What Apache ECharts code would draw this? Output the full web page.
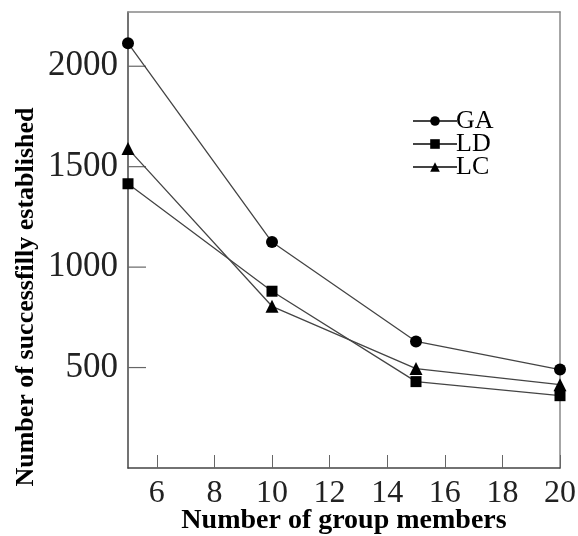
<!DOCTYPE html>
<html>
<head>
<meta charset="utf-8">
<script src="https://cdn.jsdelivr.net/npm/echarts@6/dist/echarts.min.js"></script>
<style>
  html, body { margin: 0; padding: 0; background: #fff; }
  #main { width: 578px; height: 536px; }
</style>
</head>
<body>
<div id="main"></div>
<script>
const members = [5, 10, 15, 20]
const gaValues = [2115, 1125, 630, 490]
const ldValues = [1415, 880, 430, 360]
const lcValues = [1590, 805, 495, 415]
const xTicks = [6, 8, 10, 12, 14, 16, 18, 20]
const yTicks = [500, 1000, 1500, 2000]
const xMin = 5
const xMax = 20
const yMax = 2270

const serif = '"Liberation Serif", "DejaVu Serif", serif'

const pairs = vals => members.map((m, i) => [m, vals[i]])

const makeSeries = (name, vals, symbol, size) => ({
    name,
    type: 'line',
    data: pairs(vals),
    symbol,
    symbolSize: size,
    lineStyle: { color: '#444', width: 1.3 },
    itemStyle: { color: '#000' },
})

// top / right frame lines
const frameAxis = {
    type: 'value',
    axisLine: { show: true, onZero: false, lineStyle: { color: '#888', width: 1.5 } },
    axisTick: { show: false },
    axisLabel: { show: false },
    splitLine: { show: false },
}

const chart = echarts.init(document.getElementById('main'))
chart.setOption({
    animation: false,
    grid: {
        left: 128,
        right: 18,
        top: 12,
        bottom: 68,
        outerBoundsMode: 'none',
        containLabel: false,
        show: false,
    },
    legend: {
        orient: 'vertical',
        left: 407,
        top: 103,
        itemWidth: 44,
        itemHeight: 12,
        itemGap: -3,
        textStyle: {
            fontFamily: serif,
            fontSize: 26,
            lineHeight: 21,
            color: '#000',
            padding: [0, 0, 0, -6],
        },
        data: ['GA', 'LD', 'LC'],
    },
    xAxis: [
        {
            type: 'value',
            min: xMin,
            max: xMax,
            name: 'Number of group members',
            nameLocation: 'middle',
            nameGap: 39,
            nameMoveOverlap: false,
            nameTextStyle: {
                fontFamily: serif,
                fontWeight: 'bold',
                fontSize: 28,
                color: '#000',
            },
            axisLine: { onZero: false, lineStyle: { color: '#444', width: 1.5 } },
            axisTick: {
                show: true,
                inside: true,
                length: 13,
                customValues: xTicks,
                lineStyle: { color: '#666' },
            },
            axisLabel: {
                customValues: xTicks,
                margin: 10,
                fontFamily: serif,
                fontSize: 32,
                color: '#222',
            },
            splitLine: { show: false },
        },
        { ...frameAxis, position: 'top', min: xMin, max: xMax },
    ],
    yAxis: [
        {
            type: 'value',
            min: 0,
            max: yMax,
            interval: 500,
            axisLine: { show: true, onZero: false, lineStyle: { color: '#444', width: 1.5 } },
            axisTick: { show: false },
            axisLabel: {
                showMinLabel: false,
                showMaxLabel: false,
                formatter: v => (v === 0 ? '' : String(v)),
                margin: 10,
                fontFamily: serif,
                fontSize: 35,
                color: '#222',
            },
            splitLine: { show: false },
        },
        { ...frameAxis, position: 'right', min: 0, max: yMax },
    ],
    graphic: [
        {
            type: 'text',
            x: 26,
            y: 297,
            rotation: Math.PI / 2,
            style: {
                text: 'Number of successfilly established',
                fontFamily: serif,
                fontWeight: 'bold',
                fontSize: 26,
                fill: '#000',
                align: 'center',
                verticalAlign: 'middle',
            },
        },
    ],
    series: [
        makeSeries('GA', gaValues, 'circle', 12),
        makeSeries('LD', ldValues, 'rect', 11),
        makeSeries('LC', lcValues, 'triangle', 13),
        {
            // inward ticks of the left axis, placed through the y scale
            type: 'custom',
            silent: true,
            clip: false,
            data: yTicks.map(v => [xMin, v]),
            renderItem: (params, api) => {
                const p = api.coord([api.value(0), api.value(1)])
                return {
                    type: 'line',
                    shape: { x1: p[0], y1: p[1], x2: p[0] + 18, y2: p[1] },
                    style: { stroke: '#666', lineWidth: 1.2 },
                }
            },
        },
    ],
})
</script>
</body>
</html>
